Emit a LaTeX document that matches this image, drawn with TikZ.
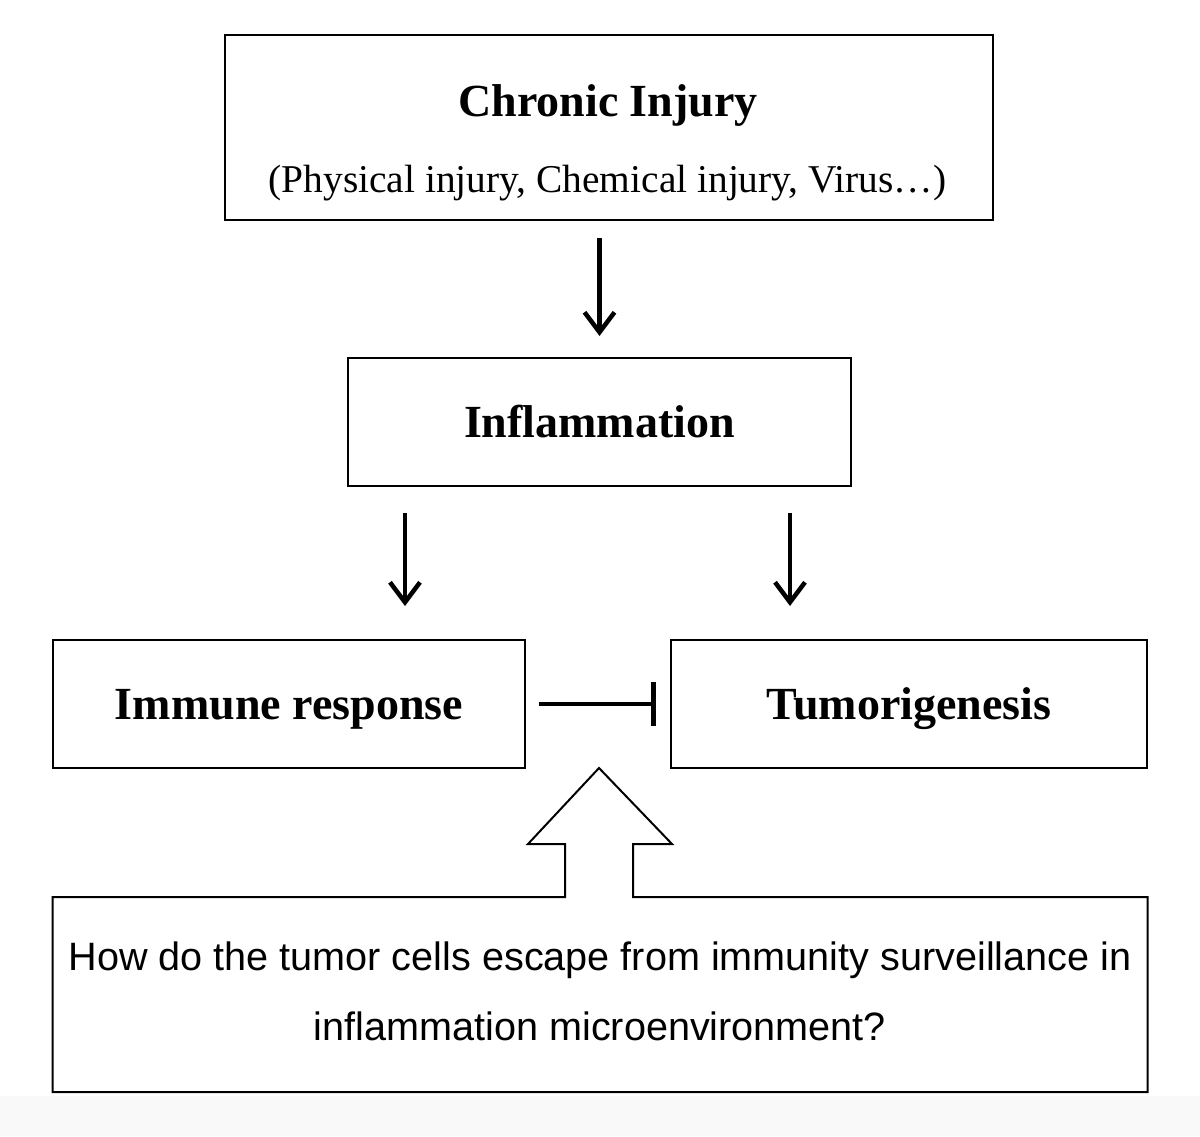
\documentclass[tikz,border=0pt]{standalone}
\usepackage{fontspec}
\setmainfont{Liberation Serif}
\setsansfont{Liberation Sans}
\usetikzlibrary{arrows.meta}
\begin{document}
\begin{tikzpicture}[x=1pt,y=-1pt,
  box/.style={draw, line width=2pt, inner sep=0pt},
  title/.style={font=\fontsize{46}{50}\selectfont\bfseries, inner sep=0pt, text height=31pt, text depth=0pt},
  sub/.style={font=\fontsize{39.4}{44}\selectfont, inner sep=0pt, text height=26pt, text depth=0pt},
  question/.style={font=\sffamily\fontsize{39.6}{70}\selectfont, align=center, inner sep=0pt},
  arr/.style={line width=4.5pt, -{Straight Barb[length=20pt,width=30pt]}},
  inhib/.style={line width=3.5pt, -{Bar[width=44pt,line width=5pt]}},
  outline/.style={line width=2pt}]
\useasboundingbox (0,0) rectangle (1200,1136);
\fill[white] (0,0) rectangle (1200,1136);
\fill[gray!5] (0,1096) rectangle (1200,1136);

% boxes
\node[box, minimum width=768pt, minimum height=185pt] (chronic) at (609,127.5) {};
\node[title] (chronicT) at (608,101) {Chronic Injury};
\node[sub] (chronicS) at (607.5,179) {(Physical injury, Chemical injury, Virus\ldots)};

\node[box, title, minimum width=503pt, minimum height=128pt] (inflam) at (599.5,422) {Inflammation};
\node[box, title, minimum width=472pt, minimum height=128pt] (immune) at (289,704) {Immune response};
\node[box, title, minimum width=476pt, minimum height=128pt] (tumor) at (909,704) {Tumorigenesis};

\node[question, minimum width=1095pt, minimum height=195pt] (q) at (600,991.5)
  {How do the tumor cells escape from immunity surveillance in\\inflammation microenvironment?};

% connectors
\coordinate (lx) at (405,0);
\coordinate (rx) at (790,0);
\draw[arr, shorten <=17pt, shorten >=21pt] (inflam.north |- chronic.south) -- (inflam.north);
\draw[arr, shorten <=26pt, shorten >=33pt] (inflam.south -| lx) -- (immune.north -| lx);
\draw[arr, shorten <=26pt, shorten >=33pt] (inflam.south -| rx) -- (tumor.north -| rx);
\draw[inhib, shorten <=13pt, shorten >=14pt] (immune.east) -- (tumor.west);

% bottom box with hollow arrow
\draw[outline] (52.5,897) -- (565,897) -- (565,844) -- (528,844) -- (599,768)
  -- (672,844) -- (633,844) -- (633,897) -- (1147.5,897) -- (1147.5,1092)
  -- (52.5,1092) -- cycle;
\end{tikzpicture}
\end{document}
